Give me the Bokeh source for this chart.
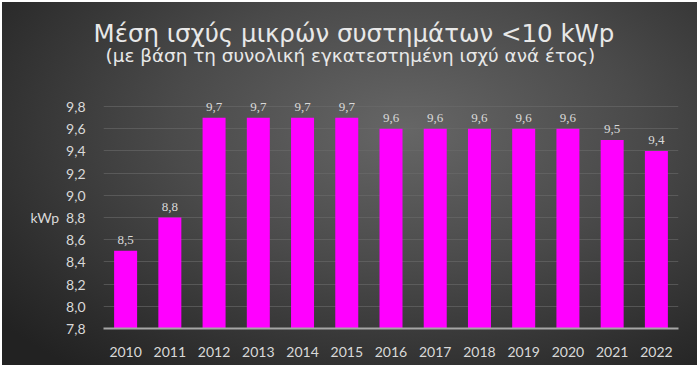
from bokeh.plotting import figure
from bokeh.models import ColumnDataSource, FixedTicker, LabelSet, FactorRange, Range1d, Title
from bokeh.embed import file_html
from bokeh.resources import INLINE

years = ["2010", "2011", "2012", "2013", "2014", "2015", "2016",
         "2017", "2018", "2019", "2020", "2021", "2022"]
values = [8.5, 8.8, 9.7, 9.7, 9.7, 9.7, 9.6, 9.6, 9.6, 9.6, 9.6, 9.5, 9.4]
y_ticks = [7.8, 8.0, 8.2, 8.4, 8.6, 8.8, 9.0, 9.2, 9.4, 9.6, 9.8]
y_tick_labels = ["7,8", "8,0", "8,2", "8,4", "8,6", "8,8", "9,0", "9,2", "9,4", "9,6", "9,8"]
title_text = "Μέση ισχύς μικρών συστημάτων <10 kWp"
subtitle_text = "(με βάση τη συνολική εγκατεστημένη ισχύ ανά έτος)"
unit_text = "kWp"
unit_tick = 8.8

W, H = 695, 363
src = ColumnDataSource(dict(
    year=years,
    value=values,
    label=[f"{v:.1f}".replace(".", ",") for v in values],
))

p = figure(
    width=W, height=H,
    x_range=FactorRange(*years, range_padding=0),
    y_range=Range1d(7.8, 9.9),
    output_backend="svg", toolbar_location=None,
    min_border_left=101, min_border_right=19,
    min_border_top=93, min_border_bottom=37,
)
p.styles = {
    "margin": "2px 0 0 2px",
    "background": "radial-gradient(ellipse 75% 85% at 58% 35%, #666666 0%, #4a4a4a 45%, #2c2c2c 85%, #222222 100%)",
}
p.background_fill_color = None
p.border_fill_color = None
p.outline_line_color = None

# panels in "above" stack outward from the frame: spacer, subtitle, then main title
try:
    main_title = Title(text=title_text, align="left", offset=-10, standoff=-10,
                       text_color="#e8e8e8", text_font="DejaVu Sans", text_font_size="24.5px",
                       text_font_style="normal", text_line_height=1.0)
except ValueError:
    main_title = Title(text=title_text, align="left", offset=-10, standoff=0,
                       text_color="#e8e8e8", text_font="DejaVu Sans", text_font_size="24.5px",
                       text_font_style="normal", text_line_height=1.0)
p.title = main_title
p.add_layout(Title(text="\u00a0", align="left", standoff=27, text_font_size="1px",
                   text_color="#e8e8e8", text_line_height=1.0), "above")
p.add_layout(Title(text=subtitle_text, align="left", offset=2, standoff=0,
                   text_color="#e8e8e8", text_font="DejaVu Sans", text_font_size="18.4px",
                   text_font_style="normal", text_line_height=1.0), "above")

p.vbar(x="year", top="value", bottom=7.8, width=0.52, source=src,
       fill_color="#ff00ff", line_color=None)

labels = LabelSet(x="year", y="value", text="label", source=src,
                  text_align="center", text_baseline="bottom", y_offset=7,
                  text_color="#d9d9d9", text_font="Lato", text_font_size="13px")
p.add_layout(labels)

p.xgrid.grid_line_color = None
p.ygrid.ticker = FixedTicker(ticks=y_ticks)
p.ygrid.grid_line_color = "#6a6a6a"
p.ygrid.grid_line_alpha = 0.6
p.ygrid.grid_line_width = 1

overrides = {t: l for t, l in zip(y_ticks, y_tick_labels)}
overrides[unit_tick] = unit_text + "\u2002" + overrides[unit_tick]
p.yaxis.ticker = FixedTicker(ticks=y_ticks)
p.yaxis.major_label_overrides = overrides
p.yaxis.axis_line_color = None
p.yaxis.major_tick_line_color = None
p.yaxis.minor_tick_line_color = None
p.yaxis.major_label_standoff = 12
p.yaxis.major_label_text_color = "#d9d9d9"
p.yaxis.major_label_text_font = "Lato"
p.yaxis.major_label_text_font_size = "14px"

p.xaxis.axis_line_color = "#a6a6a6"
p.xaxis.axis_line_width = 2
p.xaxis.major_tick_line_color = None
p.xaxis.minor_tick_line_color = None
p.xaxis.major_label_standoff = 12
p.xaxis.major_label_text_color = "#d9d9d9"
p.xaxis.major_label_text_font = "Lato"
p.xaxis.major_label_text_font_size = "14px"

open("out.html", "w").write(file_html(p, INLINE))
